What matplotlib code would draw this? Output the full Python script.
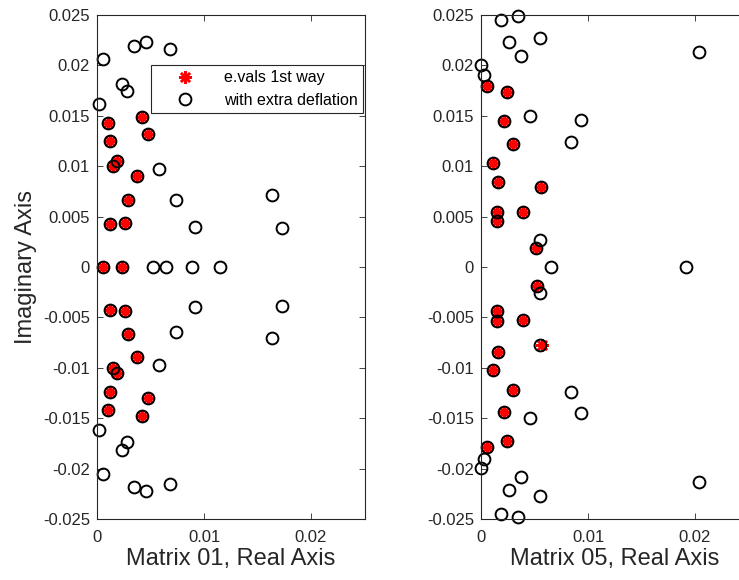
import matplotlib
matplotlib.use('Agg')
import matplotlib.pyplot as plt
from matplotlib.ticker import FixedLocator, FuncFormatter

plt.rcParams['font.family'] = ['Liberation Sans', 'DejaVu Sans']

# Matrix 01: eigenvalues computed the first way (red asterisks)
m01_first_x = [0.00106, 0.0042, 0.00124, 0.00477, 0.00184, 0.00147, 0.0037, 0.00287,
               0.00121, 0.0026, 0.00059, 0.00234,
               0.00121, 0.0026, 0.00287, 0.0037, 0.00147, 0.00184, 0.00124, 0.00477,
               0.00106, 0.0042]
m01_first_y = [0.0143, 0.0149, 0.0125, 0.0132, 0.0105, 0.0100, 0.0090, 0.0066,
               0.0043, 0.0044, 0.0, 0.0,
               -0.0043, -0.0044, -0.0066, -0.0089, -0.0100, -0.0105, -0.0124, -0.0130,
               -0.0142, -0.0148]

# Matrix 01: eigenvalues with extra deflation (open circles)
m01_defl_x = [0.00106, 0.0042, 0.00124, 0.00477, 0.00184, 0.00147, 0.0037, 0.00287,
              0.00121, 0.0026, 0.00059, 0.00234,
              0.00121, 0.0026, 0.00287, 0.0037, 0.00147, 0.00184, 0.00124, 0.00477,
              0.00106, 0.0042,
              0.00053, 0.0035, 0.0046, 0.0068, 0.00234, 0.0028, 0.00016, 0.00576,
              0.0074, 0.0092, 0.01638, 0.01729, 0.0052, 0.0064, 0.0089, 0.0115,
              0.0092, 0.01729, 0.0074, 0.01638, 0.00576, 0.00016, 0.0028, 0.00234,
              0.00053, 0.0035, 0.0046, 0.0068]
m01_defl_y = [0.0143, 0.0149, 0.0125, 0.0132, 0.0105, 0.0100, 0.0090, 0.0066,
              0.0043, 0.0044, 0.0, 0.0,
              -0.0043, -0.0044, -0.0066, -0.0089, -0.0100, -0.0105, -0.0124, -0.0130,
              -0.0142, -0.0148,
              0.0206, 0.0219, 0.0223, 0.0216, 0.0182, 0.0175, 0.0162, 0.0097,
              0.0066, 0.0040, 0.0071, 0.0039, 0.0, 0.0, 0.0, 0.0,
              -0.0040, -0.0039, -0.0065, -0.0070, -0.0097, -0.0162, -0.0174, -0.0182,
              -0.0205, -0.0218, -0.0222, -0.0215]

# Matrix 05: first way
m05_first_x = [0.00059, 0.00246, 0.00212, 0.00296, 0.00109, 0.00156, 0.0056, 0.00147,
               0.00147, 0.00396, 0.00514,
               0.0052, 0.00147, 0.00147, 0.00396, 0.0057, 0.00156, 0.00109, 0.00296,
               0.00212, 0.00246, 0.00059]
m05_first_y = [0.0180, 0.0174, 0.0145, 0.0122, 0.0103, 0.0084, 0.0079, 0.0055,
               0.0046, 0.0055, 0.0019,
               -0.00185, -0.0044, -0.0054, -0.0053, -0.0077, -0.0084, -0.0102, -0.0122,
               -0.0144, -0.0173, -0.0179]

# Matrix 05: with extra deflation
m05_defl_x = [0.00059, 0.00246, 0.00212, 0.00296, 0.00109, 0.00156, 0.0056, 0.00147,
              0.00147, 0.00396, 0.00514,
              0.0052, 0.00147, 0.00147, 0.00396, 0.0055, 0.00156, 0.00109, 0.00296,
              0.00212, 0.00246, 0.00059,
              0.0019, 0.0035, 0.0055, 0.00265, 0.00377, 0.00003, 0.00025, 0.00458,
              0.0093, 0.0084, 0.00551, 0.0065, 0.0192, 0.0204, 0.0204,
              0.0055, 0.0084, 0.0093, 0.00458, 0.00025, 0.00003, 0.00377, 0.00265,
              0.0055, 0.0019, 0.0035]
m05_defl_y = [0.0180, 0.0174, 0.0145, 0.0122, 0.0103, 0.0084, 0.0079, 0.0055,
              0.0046, 0.0055, 0.0019,
              -0.00185, -0.0044, -0.0054, -0.0053, -0.0077, -0.0084, -0.0102, -0.0122,
              -0.0144, -0.0173, -0.0179,
              0.0245, 0.0249, 0.0227, 0.0223, 0.0209, 0.0200, 0.0190, 0.0150,
              0.0146, 0.0124, 0.0027, 0.0, 0.0, 0.0213, -0.0213,
              -0.0026, -0.0124, -0.0145, -0.0150, -0.0190, -0.0199, -0.0208, -0.0221,
              -0.0227, -0.0245, -0.0248]

x_ticks = [0, 0.01, 0.02]
y_ticks = [-0.025, -0.02, -0.015, -0.01, -0.005, 0, 0.005, 0.01, 0.015, 0.02, 0.025]
xlabels = ['Matrix 01, Real Axis', 'Matrix 05, Real Axis']

gray = '#262626'
fig = plt.figure(figsize=(7.39, 5.80), dpi=100)
ax1 = fig.add_axes([0.1313, 0.1052, 0.362, 0.869])
ax2 = fig.add_axes([0.6509, 0.1052, 0.362, 0.869])

panels = [(ax1, m01_first_x, m01_first_y, m01_defl_x, m01_defl_y),
          (ax2, m05_first_x, m05_first_y, m05_defl_x, m05_defl_y)]

for i, (ax, fx, fy, dx, dy) in enumerate(panels):
    ax.plot(fx, fy, linestyle='none', marker=(8, 2, 0), color='red',
            markersize=9, markeredgewidth=1.8, clip_on=False, label='e.vals 1st way')
    ax.plot(dx, dy, linestyle='none', marker='o', markerfacecolor='none',
            markeredgecolor='black', markersize=8.5, markeredgewidth=1.4,
            clip_on=False, label='with extra deflation')
    ax.set_xlim(0, 0.025)
    ax.set_ylim(-0.025, 0.025)
    ax.xaxis.set_major_locator(FixedLocator(x_ticks))
    ax.yaxis.set_major_locator(FixedLocator(y_ticks))
    ax.xaxis.set_major_formatter(FuncFormatter(lambda v, p: '%g' % v))
    ax.yaxis.set_major_formatter(FuncFormatter(lambda v, p: '%g' % v))
    ax.tick_params(direction='in', length=4, width=0.6, colors=gray,
                   labelsize=12, top=True, right=True)
    ax.tick_params(axis='x', pad=8)
    ax.tick_params(axis='y', pad=5)
    for s in ax.spines.values():
        s.set_color(gray)
        s.set_linewidth(0.8)
    ax.set_xlabel(xlabels[i], fontsize=17, color=gray, labelpad=2)

ax1.set_ylabel('Imaginary Axis', fontsize=17, color=gray, labelpad=4)

leg = ax1.legend(loc='upper right', bbox_to_anchor=(0.994, 0.901), fontsize=11.5,
                 fancybox=False, framealpha=1, edgecolor=gray, handletextpad=0.6,
                 borderpad=0.35, labelspacing=0.45, handlelength=3.6,
                 borderaxespad=0)
leg.get_frame().set_linewidth(0.8)

fig.savefig('out.png', dpi=100)
